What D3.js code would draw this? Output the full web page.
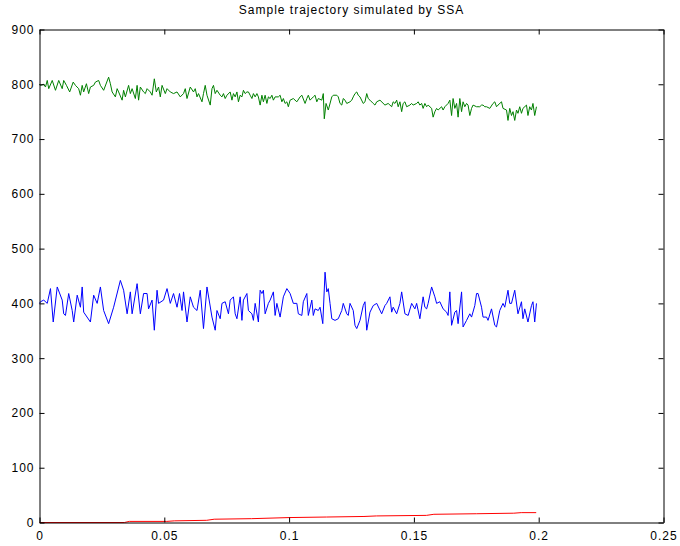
<!DOCTYPE html>
<html>
<head>
<meta charset="utf-8">
<script src="https://cdn.jsdelivr.net/npm/d3@7"></script>
<style>
  html, body { margin: 0; padding: 0; background: #fff; }
  text { font-family: "Liberation Sans", Arial, Helvetica, sans-serif; }
</style>
</head>
<body>
<svg id="chart" width="680" height="546"></svg>
<script>
// ---- data ----
const title = "Sample trajectory simulated by SSA";
const xTicks = [0, 0.05, 0.1, 0.15, 0.2, 0.25];
const yTicks = [0, 100, 200, 300, 400, 500, 600, 700, 800, 900];

const blueT = [0,0.0004,0.0017,0.0031,0.0044,0.0055,0.0071,0.0091,0.0097,0.0104,0.0117,0.0131,0.0137,0.0151,0.0164,0.0171,0.0177,0.0204,0.0217,0.0231,0.0244,0.0257,0.0277,0.0297,0.0324,0.0337,0.0351,0.0364,0.0371,0.0391,0.0404,0.0417,0.0431,0.0437,0.0451,0.0460,0.0471,0.0477,0.0497,0.0511,0.0524,0.0537,0.0551,0.0561,0.0571,0.0577,0.0591,0.0604,0.0617,0.0631,0.0644,0.0657,0.0671,
0.0691,0.0704,0.0711,0.0724,0.0731,0.0744,0.0757,0.0764,0.0777,0.0784,0.0791,0.0804,0.0811,0.0817,0.0831,0.0837,0.0851,0.0857,0.0864,0.0877,0.0884,0.0891,0.0897,0.0904,0.0917,0.0924,0.0937,0.0944,0.0951,0.0964,0.0977,0.0991,0.1004,0.1017,0.1031,0.1037,0.1051,0.1057,0.1071,0.1077,0.1091,0.1097,0.1104,0.1117,0.1124,0.1135,0.1144,0.1151,0.1157,0.1164,0.1171,0.1184,0.1197,0.1211,0.1217,0.1231,0.1237,0.1244,0.1257,0.1264,0.1271,0.1284,0.1297,0.1304,0.1311,0.1324,0.1337,0.1351,
0.1371,0.1384,0.1391,0.1404,0.1411,0.1417,0.1431,0.1444,0.1451,0.1464,0.1477,0.1491,0.1504,0.1511,0.1524,0.1537,0.1544,0.1551,0.1557,0.1571,0.1584,0.1591,0.1604,0.1617,0.1631,0.1637,0.1644,0.1651,0.1664,0.1671,0.1677,0.1691,0.1697,0.1711,0.1724,0.1731,0.1744,0.1751,0.1757,0.1771,0.1777,0.1791,0.1797,0.1811,0.1824,0.1831,0.1844,0.1857,0.1864,0.1877,0.1884,0.1891,0.1904,0.1917,0.1931,0.1937,0.1944,0.1957,0.1971,0.1977,0.1984,0.1991];
const blueV = [400,403,406,400,427,366,430,406,381,378,418,387,366,415,393,430,384,366,415,400,430,387,363,393,442,424,381,421,381,436,381,418,418,390,406,351,424,400,406,427,400,418,393,418,387,421,366,412,393,387,424,354,430,
375,351,387,372,400,403,381,406,412,381,372,412,369,406,418,387,381,369,400,366,424,418,424,381,400,406,421,378,400,375,412,427,418,400,400,381,378,403,418,378,406,378,390,387,393,363,457,421,427,400,372,369,372,387,400,381,378,400,387,360,354,369,396,403,351,384,396,400,
381,396,400,412,384,393,381,400,421,381,378,400,390,400,372,412,393,390,400,430,412,400,403,390,384,378,421,360,384,387,363,421,357,369,381,375,396,418,418,393,375,375,369,390,360,357,387,400,393,424,400,400,424,381,403,372,390,366,396,403,366,400];

const greenT = [0,0.0004,0.0017,0.0024,0.0031,0.0037,0.0051,0.0064,0.0077,0.0091,0.0097,0.0108,0.0121,0.0135,0.0144,0.0157,0.0164,0.0171,0.0177,0.0188,0.0197,0.0204,0.0217,0.0224,0.0237,0.0244,0.0257,0.0277,0.0284,0.0291,0.0304,0.0311,0.0317,0.0331,0.0337,0.0344,0.0357,0.0364,0.0371,0.0384,0.0391,0.0397,0.0404,0.0417,0.0424,0.0431,0.0444,0.0451,0.0460,0.0468,0.0477,0.0484,0.0491,0.0504,0.0511,0.0524,0.0537,0.0551,0.0564,0.0577,0.0584,0.0591,0.0604,0.0617,0.0624,0.0631,0.0637,0.0651,0.0657,0.0664,0.0671,0.0684,
0.0691,0.0697,0.0704,0.0711,0.0724,0.0731,0.0737,0.0744,0.0751,0.0764,0.0771,0.0777,0.0784,0.0791,0.0797,0.0804,0.0811,0.0817,0.0824,0.0831,0.0837,0.0844,0.0851,0.0857,0.0864,0.0871,0.0877,0.0884,0.0891,0.0897,0.0904,0.0911,0.0917,0.0924,0.0931,0.0937,0.0944,0.0957,0.0964,0.0971,0.0977,0.0984,0.0991,0.0997,0.1004,0.1017,0.1031,0.1044,0.1051,0.1064,0.1071,0.1077,0.1084,0.1097,0.1104,0.1111,0.1117,0.1131,0.1137,0.1141,0.1148,0.1157,0.1171,0.1177,0.1191,0.1197,0.1204,0.1211,0.1217,0.1224,0.1231,0.1244,0.1251,0.1257,0.1264,0.1271,0.1277,0.1284,0.1297,0.1304,0.1311,0.1317,0.1324,0.1337,0.1344,0.1351,0.1364,
0.1384,0.1397,0.1404,0.1411,0.1417,0.1424,0.1431,0.1437,0.1444,0.1451,0.1457,0.1464,0.1471,0.1484,0.1491,0.1497,0.1511,0.1517,0.1524,0.1531,0.1537,0.1544,0.1551,0.1557,0.1571,0.1577,0.1584,0.1591,0.1597,0.1611,0.1617,0.1624,0.1637,0.1644,0.1651,0.1657,0.1664,0.1671,0.1677,0.1684,0.1691,0.1697,0.1704,0.1711,0.1717,0.1724,0.1731,0.1737,0.1751,0.1764,0.1771,0.1777,0.1784,0.1791,0.1804,0.1817,0.1824,0.1831,0.1837,0.1851,0.1857,0.1871,0.1877,0.1884,0.1891,0.1897,0.1904,0.1911,0.1917,0.1924,0.1931,0.1937,0.1951,0.1957,0.1964,0.1971,0.1977,0.1984,0.1991];
const greenV = [800,798,800,795,807,792,807,789,807,792,807,798,786,804,798,792,780,798,786,801,783,795,798,804,807,798,789,813,801,786,777,792,786,771,789,777,798,783,792,774,798,771,795,786,783,792,786,780,810,786,795,777,798,783,792,786,783,786,777,783,792,774,795,786,792,777,783,768,783,798,780,762,
792,798,783,789,780,777,783,774,780,786,771,783,777,786,768,780,777,789,783,786,786,780,774,783,777,783,777,762,780,768,780,765,777,774,780,771,777,777,780,768,774,765,768,759,771,774,768,777,780,765,774,780,771,777,780,768,774,771,783,737,765,753,777,780,780,777,765,762,774,771,765,768,771,777,783,786,780,777,765,768,783,774,771,765,762,768,771,
762,765,762,759,768,765,771,759,768,750,765,768,759,762,765,762,765,768,762,765,756,765,759,762,756,740,750,756,753,759,753,759,765,771,743,774,756,765,740,774,750,768,759,765,762,743,756,762,759,759,762,762,759,759,756,765,768,759,762,768,756,753,734,756,743,750,734,753,747,759,747,756,762,743,759,753,765,743,759];

const redT = [0,0.034,0.036,0.051,0.054,0.067,0.070,0.085,0.100,0.115,0.130,0.135,0.155,0.158,0.175,0.190,0.193,0.199];
const redV = [0,0,2,2,3,4,6,7,9,10,11,12,13,15,16,17,18,18];

// ---- layout ----
const L = 39.5, R = 663.5, T = 29.5, B = 522.5;
const svg = d3.select("#chart");

const x = d3.scaleLinear().domain([0, 0.25]).range([L, R]);
const y = d3.scaleLinear().domain([0, 900]).range([B, T]);

const fmt = d => String(d);

// plot lines
const line = d3.line().x(d => x(d[0])).y(d => y(d[1]));
const series = [
  {t: blueT, v: blueV, color: "#0000ff"},
  {t: greenT, v: greenV, color: "#008000"},
  {t: redT, v: redV, color: "#ff0000"}
];
series.forEach(s => {
  svg.append("path")
    .datum(s.t.map((t, i) => [t, s.v[i]]))
    .attr("fill", "none")
    .attr("stroke", s.color)
    .attr("stroke-width", 1)
    .attr("d", line);
});

// axes (MATLAB style box with inward ticks)
const styleAxis = g => {
  g.selectAll("path.domain").attr("stroke", "#000").attr("stroke-width", 1);
  g.selectAll(".tick line").attr("stroke", "#000").attr("stroke-width", 1);
  g.selectAll("text").attr("fill", "#000").style("font-size", "12px")
    .style("letter-spacing", "1px").style("font-family", "'Liberation Sans', Arial, sans-serif");
};

svg.append("g").attr("transform", `translate(0,${B})`)
  .call(d3.axisBottom(x).tickValues(xTicks).tickFormat(fmt).tickSizeInner(-5).tickSizeOuter(0).tickPadding(9))
  .call(styleAxis);
svg.append("g").attr("transform", `translate(0,${T})`)
  .call(d3.axisTop(x).tickValues(xTicks).tickFormat("").tickSizeInner(-5).tickSizeOuter(0))
  .call(styleAxis);
svg.append("g").attr("transform", `translate(${L},0)`)
  .call(d3.axisLeft(y).tickValues(yTicks).tickFormat(fmt).tickSizeInner(-5).tickSizeOuter(0).tickPadding(5))
  .call(styleAxis);
svg.append("g").attr("transform", `translate(${R},0)`)
  .call(d3.axisRight(y).tickValues(yTicks).tickFormat("").tickSizeInner(-5).tickSizeOuter(0))
  .call(styleAxis);

// title
svg.append("text")
  .attr("x", (L + R) / 2)
  .attr("y", 14)
  .attr("text-anchor", "middle")
  .style("font-size", "12px")
  .style("letter-spacing", "1px")
  .attr("fill", "#000")
  .text(title);
</script>
</body>
</html>
